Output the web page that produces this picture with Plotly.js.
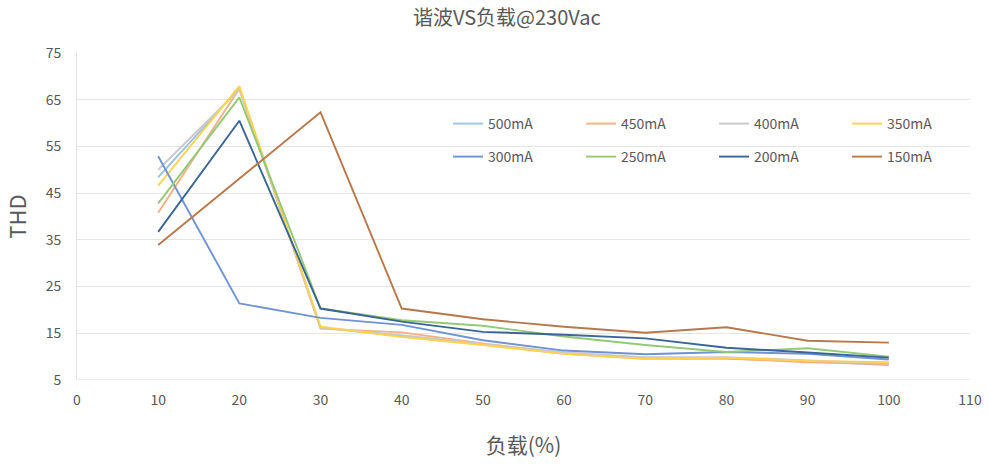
<!DOCTYPE html>
<html>
<head>
<meta charset="utf-8">
<script src="https://cdn.plot.ly/plotly-3.0.1.min.js"></script>
<style>html,body{margin:0;padding:0;background:#fff;}#chart{width:988px;height:464px;}</style>
</head>
<body>
<div id="chart"></div>
<script>
var loads = [10, 20, 30, 40, 50, 60, 70, 80, 90, 100];
var seriesNames = ['500mA', '450mA', '400mA', '350mA', '300mA', '250mA', '200mA', '150mA'];
var thd500 = [48.4, 67.5, 16.2, 14.4, 12.6, 10.6, 9.6, 9.6, 9.0, 8.2];
var thd450 = [40.8, 67.4, 16.0, 15.2, 12.8, 10.8, 9.6, 9.6, 8.8, 8.4];
var thd400 = [50.0, 67.2, 16.2, 14.6, 12.7, 10.9, 9.9, 9.9, 9.2, 8.6];
var thd350 = [46.6, 67.9, 16.4, 14.2, 12.5, 10.6, 9.5, 9.8, 9.1, 8.8];
var thd300 = [52.9, 21.4, 18.3, 16.8, 13.5, 11.3, 10.5, 11.0, 10.6, 9.4];
var thd250 = [42.8, 65.5, 20.3, 17.8, 16.6, 14.3, 12.5, 11.0, 11.8, 10.0];
var thd200 = [36.7, 60.5, 20.3, 17.5, 15.3, 14.7, 13.9, 11.9, 10.9, 9.8];
var thd150 = [33.9, 48.1, 62.3, 20.3, 18.0, 16.4, 15.1, 16.3, 13.4, 13.0];
var yTicks = [5, 15, 25, 35, 45, 55, 65, 75];
var xTicks = [0, 10, 20, 30, 40, 50, 60, 70, 80, 90, 100, 110];

var allData = [thd500, thd450, thd400, thd350, thd300, thd250, thd200, thd150];
var colors = ['#9DC3E6', '#F4B183', '#C9C9C9', '#FFD34D', '#6F93D3', '#93C977', '#3A6596', '#B8784B'];
var font = '"Noto Sans CJK SC", "Noto Sans", sans-serif';

var traces = allData.map(function (d, i) {
  return {
    x: loads, y: d, name: seriesNames[i], type: 'scatter', mode: 'lines',
    line: {color: colors[i], width: 1.9},
    legend: i < 4 ? 'legend' : 'legend2',
    hoverinfo: 'x+y+name'
  };
});

var legendCommon = {
  orientation: 'h', xref: 'paper', yref: 'paper', xanchor: 'left', yanchor: 'middle',
  entrywidth: 88, entrywidthmode: 'pixels', itemwidth: 30,
  font: {family: font, size: 14, color: '#595959'}, bgcolor: 'rgba(0,0,0,0)',
  traceorder: 'normal', tracegroupgap: 0
};
var leg1 = Object.assign({}, legendCommon, {x: 0.4155, y: (380 - 124) / 327});
var leg2 = Object.assign({}, legendCommon, {x: 0.4155, y: (380 - 157) / 327});

var layout = {
  width: 988, height: 464,
  margin: {l: 77, r: 18, t: 53, b: 84, autoexpand: false},
  paper_bgcolor: '#ffffff', plot_bgcolor: '#ffffff',
  font: {family: font, color: '#595959'},
  title: {text: '谐波VS负载@230Vac', x: 0.513, xref: 'container', xanchor: 'center', y: 0.962, yref: 'container', yanchor: 'middle',
          font: {family: font, size: 20, color: '#595959'}},
  xaxis: {
    range: [0, 110], tickvals: xTicks, ticktext: xTicks.map(String),
    showgrid: false, zeroline: false, showline: false,
    ticks: '', ticklabelstandoff: 10, tickfont: {family: font, size: 14, color: '#595959'},
    title: {text: '负载(%)', font: {family: font, size: 21, color: '#595959'}, standoff: 30},
    automargin: false
  },
  yaxis: {
    range: [5, 75], tickvals: yTicks, ticktext: yTicks.map(String),
    showgrid: true, gridcolor: '#E6E6E6', gridwidth: 1, zeroline: false,
    showline: true, linecolor: '#E0E0E0', linewidth: 1,
    ticks: '', ticklabelstandoff: 12, tickfont: {family: font, size: 14, color: '#595959'},
    title: {text: 'THD', font: {family: font, size: 22, color: '#595959'}, standoff: 12},
    automargin: false
  },
  shapes: [{type: 'line', xref: 'paper', yref: 'y', x0: 0, x1: 1, y0: 5, y1: 5, line: {color: '#D9D9D9', width: 1}}],
  legend: leg1,
  legend2: leg2,
  showlegend: true
};

Plotly.newPlot('chart', traces, layout, {displayModeBar: false, responsive: false});
</script>
</body>
</html>
